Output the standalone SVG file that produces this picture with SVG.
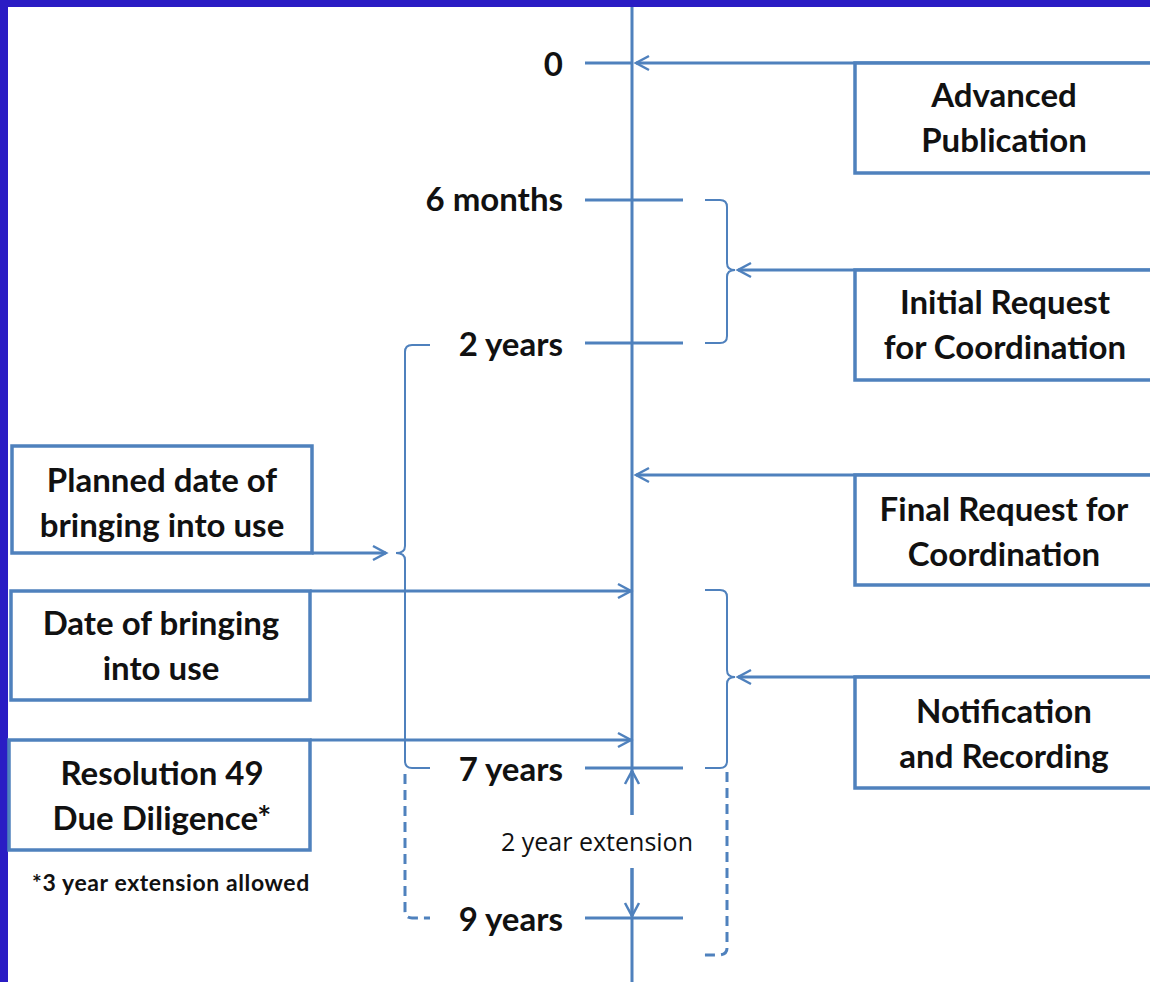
<svg xmlns="http://www.w3.org/2000/svg" width="1150" height="982" viewBox="0 0 1150 982">
<style>
.ln{stroke:#4f81bd;stroke-width:3;fill:none}
.thin{stroke:#4f81bd;stroke-width:2;fill:none}
.dash{stroke:#4f81bd;stroke-width:3;fill:none;stroke-dasharray:10,6}
.box{stroke:#4f81bd;stroke-width:3.5;fill:#fff}
.t{font-family:Lato,"Liberation Sans",sans-serif;font-weight:bold;font-size:33px;fill:#111;text-anchor:middle}
.lb{font-family:Lato,"Liberation Sans",sans-serif;font-weight:bold;font-size:33px;fill:#111;text-anchor:end}
.sm{font-family:Lato,"Liberation Sans",sans-serif;font-weight:bold;font-size:23px;letter-spacing:0.6px;fill:#111;text-anchor:middle}
.ext{font-family:"Open Sans","Liberation Sans",sans-serif;font-size:25px;fill:#111;text-anchor:middle}
</style>
<defs>
<marker id="ah" markerUnits="userSpaceOnUse" markerWidth="20" markerHeight="20" viewBox="-16 -10 20 20" refX="0" refY="0" orient="auto">
<path d="M-13,-7 L0,0 L-13,7" stroke="#4f81bd" stroke-width="2.5" fill="none"/>
</marker>
</defs>
<rect x="0" y="0" width="1150" height="982" fill="#fff"/>
<rect x="0" y="0" width="1150" height="7" fill="#2a1cc4"/>
<rect x="0" y="0" width="8" height="982" fill="#2a1cc4"/>

<g id="connectors">
<line class="ln" x1="632" y1="7" x2="632" y2="815"/>
<line class="ln" x1="632" y1="868" x2="632" y2="982"/>
<line class="ln" x1="585" y1="63" x2="632" y2="63"/>
<line class="ln" x1="585" y1="200" x2="683" y2="200"/>
<line class="ln" x1="585" y1="343" x2="683" y2="343"/>
<line class="ln" x1="585" y1="768" x2="683" y2="768"/>
<line class="ln" x1="585" y1="918" x2="683" y2="918"/>
<line class="ln" x1="1152" y1="63" x2="636" y2="63" marker-end="url(#ah)"/>
<line class="ln" x1="1152" y1="270" x2="738" y2="270" marker-end="url(#ah)"/>
<line class="ln" x1="1152" y1="475" x2="636" y2="475" marker-end="url(#ah)"/>
<line class="ln" x1="1152" y1="677" x2="738" y2="677" marker-end="url(#ah)"/>
<path class="thin" d="M705,200 L720,200 Q727,200 727,207 L727,263 Q727,270 735,270 Q727,270 727,277 L727,336 Q727,343 720,343 L705,343"/>
<path class="thin" d="M705,590 L720,590 Q727,590 727,597 L727,670 Q727,677 735,677 Q727,677 727,684 L727,761 Q727,768 720,768 L705,768"/>
<path class="dash" d="M727,772 L727,948 Q727,955 718,955 L702,955"/>
<path class="thin" d="M430,345 L412,345 Q405,345 405,352 L405,546 Q405,553 396,553 Q405,553 405,560 L405,761 Q405,768 412,768 L430,768"/>
<path class="dash" d="M405,774 L405,911 Q405,918 412,918 L430,918"/>
<line class="ln" x1="312" y1="553" x2="386" y2="553" marker-end="url(#ah)"/>
<line class="ln" x1="310" y1="591" x2="631" y2="591" marker-end="url(#ah)"/>
<line class="ln" x1="310" y1="740" x2="631" y2="740" marker-end="url(#ah)"/>
<line class="ln" x1="632" y1="815" x2="632" y2="771" marker-end="url(#ah)"/>
<line class="ln" x1="632" y1="868" x2="632" y2="916" marker-end="url(#ah)"/>
</g>

<g id="labels">
<text class="lb" x="563" y="76">0</text>
<text class="lb" x="563" y="211">6 months</text>
<text class="lb" x="563" y="356">2 years</text>
<text class="lb" x="563" y="781">7 years</text>
<text class="lb" x="563" y="931">9 years</text>
<text class="ext" x="597" y="851">2 year extension</text>
<text class="sm" x="171" y="891">*3 year extension allowed</text>
</g>

<g id="advanced-publication">
<rect class="box" x="855" y="63" width="300" height="110"/>
<text class="t" x="1004" y="107">Advanced</text>
<text class="t" x="1004" y="152">Publication</text>
</g>
<g id="initial-request">
<rect class="box" x="855" y="270" width="300" height="110"/>
<text class="t" x="1005" y="314">Initial Request</text>
<text class="t" x="1005" y="359">for Coordination</text>
</g>
<g id="final-request">
<rect class="box" x="855" y="475" width="300" height="110"/>
<text class="t" x="1004" y="521">Final Request for</text>
<text class="t" x="1004" y="566">Coordination</text>
</g>
<g id="notification">
<rect class="box" x="855" y="677" width="300" height="111"/>
<text class="t" x="1004" y="723">Notification</text>
<text class="t" x="1004" y="768">and Recording</text>
</g>
<g id="planned-date">
<rect class="box" x="12" y="446" width="300" height="107"/>
<text class="t" x="162" y="492">Planned date of</text>
<text class="t" x="162" y="537">bringing into use</text>
</g>
<g id="date-of-bringing">
<rect class="box" x="11" y="591" width="299" height="109"/>
<text class="t" x="161" y="635">Date of bringing</text>
<text class="t" x="161" y="680">into use</text>
</g>
<g id="resolution-49">
<rect class="box" x="9" y="740" width="301" height="110"/>
<text class="t" x="162" y="785">Resolution 49</text>
<text class="t" x="162" y="830">Due Diligence*</text>
</g>
</svg>
